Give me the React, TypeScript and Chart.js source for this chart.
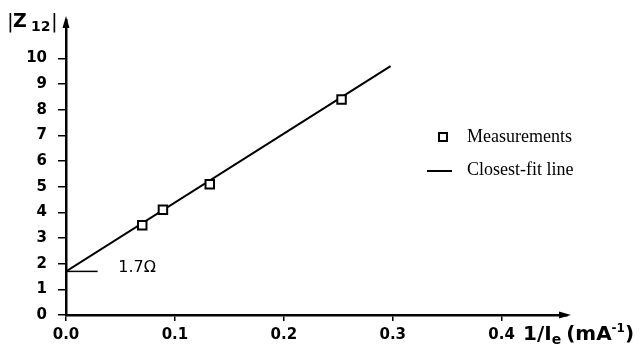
import React, { useEffect, useRef } from "react";
import { Chart, registerables } from "chart.js";

Chart.register(...registerables);

// Data
const measX = [0.07, 0.089, 0.132, 0.253];
const measY = [3.5, 4.1, 5.1, 8.4];
const fitX = [0, 0.298];
const fitY = [1.7, 9.7];
const interceptX = [0, 0.029];
const interceptY = [1.7, 1.7];
const interceptLabel = "1.7Ω";
const xTickMax = 0.4;
const yTickMax = 10;
const legendLabels = ["Measurements", "Closest-fit line"];

const TICK_FONT = { family: "'DejaVu Sans', sans-serif", size: 15, weight: "bold" as const };

const overlay = {
  id: "overlay",
  afterDraw(chart: any) {
    const ctx = chart.ctx as CanvasRenderingContext2D;
    const xs = chart.scales.x;
    const ys = chart.scales.y;
    const x0 = xs.getPixelForValue(0);
    const y0 = ys.getPixelForValue(0);
    const top = chart.chartArea.top;
    const right = chart.chartArea.right;
    ctx.save();
    ctx.fillStyle = "#000";
    ctx.strokeStyle = "#000";
    // arrowheads
    ctx.beginPath();
    ctx.moveTo(x0, top - 4);
    ctx.lineTo(x0 - 3.5, top + 8);
    ctx.lineTo(x0 + 3.5, top + 8);
    ctx.closePath();
    ctx.fill();
    ctx.beginPath();
    ctx.moveTo(right + 4, y0);
    ctx.lineTo(right - 8, y0 - 3.5);
    ctx.lineTo(right - 8, y0 + 3.5);
    ctx.closePath();
    ctx.fill();

    // y title |Z12|
    ctx.textBaseline = "alphabetic";
    ctx.textAlign = "left";
    ctx.font = "20px 'DejaVu Sans'";
    ctx.fillText("|", 7, 28);
    ctx.font = "bold 19px 'DejaVu Sans'";
    ctx.fillText("Z", 13, 27);
    ctx.font = "bold 14px 'DejaVu Sans'";
    ctx.fillText("12", 31, 31);
    ctx.font = "20px 'DejaVu Sans'";
    ctx.fillText("|", 51, 28);

    // x title 1/Ie (mA-1)
    let cx = 523;
    const by = 340;
    const part = (t: string, font: string, dy: number) => {
      ctx.font = font;
      ctx.fillText(t, cx, by + dy);
      cx += ctx.measureText(t).width;
    };
    part("1/I", "bold 20px 'DejaVu Sans'", 0);
    part("e", "bold 14px 'DejaVu Sans'", 4);
    cx += 5;
    part("(mA", "bold 20px 'DejaVu Sans'", 0);
    part("-1", "bold 12px 'DejaVu Sans'", -8);
    part(")", "bold 20px 'DejaVu Sans'", 0);

    // intercept label
    ctx.font = "16px 'DejaVu Sans'";
    ctx.textBaseline = "middle";
    ctx.fillText(interceptLabel, xs.getPixelForValue(0.048), ys.getPixelForValue(1.7) - 4);

    // legend
    ctx.font = "18px 'Liberation Serif'";
    ctx.fillText(legendLabels[0], 467, 137);
    ctx.fillText(legendLabels[1], 467, 170);
    ctx.lineWidth = 2;
    ctx.strokeRect(439, 133, 8, 8);
    ctx.beginPath();
    ctx.moveTo(427, 171);
    ctx.lineTo(452, 171);
    ctx.stroke();
    ctx.restore();
  },
};

export default function App() {
  const ref = useRef<HTMLCanvasElement | null>(null);
  useEffect(() => {
    document.body.style.margin = "0";
    const canvas = ref.current!;
    const chart = new Chart(canvas, {
      type: "scatter",
      data: {
        datasets: [
          {
            label: legendLabels[1],
            data: fitX.map((x, i) => ({ x, y: fitY[i] })),
            showLine: true,
            borderColor: "#000",
            borderWidth: 2,
            pointRadius: 0,
            order: 2,
          },
          {
            label: "intercept",
            data: interceptX.map((x, i) => ({ x, y: interceptY[i] })),
            showLine: true,
            borderColor: "#000",
            borderWidth: 1.5,
            pointRadius: 0,
            order: 3,
          },
          {
            label: legendLabels[0],
            data: measX.map((x, i) => ({ x, y: measY[i] })),
            pointStyle: "rect",
            pointRadius: 6,
            borderWidth: 2,
            borderColor: "#000",
            backgroundColor: "#fff",
            order: 1,
          },
        ],
      },
      options: {
        responsive: false,
        animation: false,
        layout: { padding: { left: 0, right: 73, top: 12, bottom: 0 } },
        plugins: { legend: { display: false }, tooltip: { enabled: false } },
        scales: {
          x: {
            type: "linear",
            min: 0,
            max: 0.46,
            afterBuildTicks: (s: any) => {
              s.ticks = s.ticks.filter((t: any) => t.value <= xTickMax + 1e-6);
            },
            afterFit: (s: any) => {
              s.height = 40;
            },
            ticks: {
              stepSize: 0.1,
              color: "#000",
              font: TICK_FONT,
              padding: 5,
              maxRotation: 0,
              callback: (v: any) => Number(v).toFixed(1),
            },
            grid: { drawOnChartArea: false, drawTicks: true, tickLength: 6, color: "#000", lineWidth: 1.5 },
            border: { display: true, color: "#000", width: 2.5 },
          },
          y: {
            type: "linear",
            min: 0,
            max: 11.5,
            afterBuildTicks: (s: any) => {
              s.ticks = s.ticks.filter((t: any) => t.value <= yTickMax + 1e-6);
            },
            afterFit: (s: any) => {
              s.width = 66;
            },
            ticks: { stepSize: 1, color: "#000", font: TICK_FONT, padding: 11 },
            grid: { drawOnChartArea: false, drawTicks: true, tickLength: 8, color: "#000", lineWidth: 1.5 },
            border: { display: true, color: "#000", width: 2.5 },
          },
        },
      },
      plugins: [overlay],
    });
    return () => chart.destroy();
  }, []);
  return <canvas ref={ref} width={640} height={355} style={{ display: "block", width: 640, height: 355 }} />;
}
